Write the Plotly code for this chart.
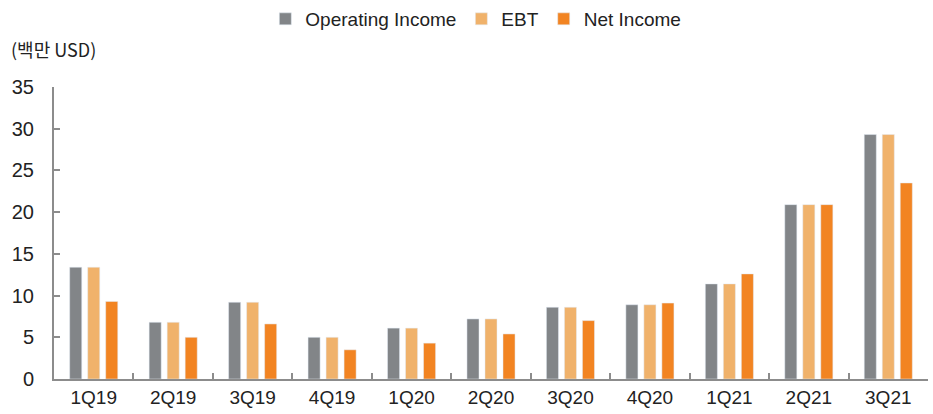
import plotly.graph_objects as go

categories = ["1Q19", "2Q19", "3Q19", "4Q19", "1Q20", "2Q20", "3Q20", "4Q20", "1Q21", "2Q21", "3Q21"]
operating_income = [13.4, 6.8, 9.2, 5.0, 6.1, 7.2, 8.6, 8.9, 11.4, 20.9, 29.3]
ebt = [13.4, 6.8, 9.2, 5.0, 6.1, 7.2, 8.6, 8.9, 11.4, 20.9, 29.3]
net_income = [9.3, 5.0, 6.6, 3.5, 4.3, 5.4, 7.0, 9.1, 12.6, 20.9, 23.5]
y_ticks = [0, 5, 10, 15, 20, 25, 30, 35]

fig = go.Figure()
fig.add_trace(go.Bar(name="Operating Income", x=categories, y=operating_income, marker_color="#828588"))
fig.add_trace(go.Bar(name="EBT", x=categories, y=ebt, marker_color="#F0B26B"))
fig.add_trace(go.Bar(name="Net Income", x=categories, y=net_income, marker_color="#F28422"))

font_main = "Liberation Sans, Arial, sans-serif"

fig.update_layout(
    width=933, height=414,
    margin=dict(l=54, r=5, t=87, b=35, autoexpand=False),
    plot_bgcolor="white", paper_bgcolor="white",
    barmode="group", bargap=0.32, bargroupgap=0.33,
    font=dict(family=font_main, size=19, color="#222"),
    legend=dict(orientation="h", x=0.51, xanchor="center", xref="container",
                y=1.0, yanchor="top", yref="container",
                font=dict(size=19, family=font_main), itemwidth=30,
                traceorder="normal"),
    showlegend=True,
)
fig.update_xaxes(
    showline=True, linecolor="#8c8c8c", linewidth=2,
    ticks="inside", ticklen=6, tickcolor="#8c8c8c", tickwidth=1.5,
    tickson="boundaries", showgrid=False, tickfont=dict(size=19), automargin=False,
)
fig.update_yaxes(
    range=[0, 35], tickvals=y_ticks, showline=True, linecolor="#8c8c8c", linewidth=2,
    ticks="inside", ticklen=6, tickcolor="#8c8c8c", tickwidth=1.5,
    showgrid=False, zeroline=False, tickfont=dict(size=20), ticklabelstandoff=14,
    automargin=False,
)
fig.add_annotation(text="(백만 USD)", xref="paper", yref="paper", x=-0.052, y=1.13,
                   xanchor="left", yanchor="middle", showarrow=False,
                   font=dict(size=18, family="Noto Sans CJK KR, Liberation Sans"))

fig.write_html("out.html", config={"displayModeBar": False},
               post_script="document.body.style.margin='0';")
